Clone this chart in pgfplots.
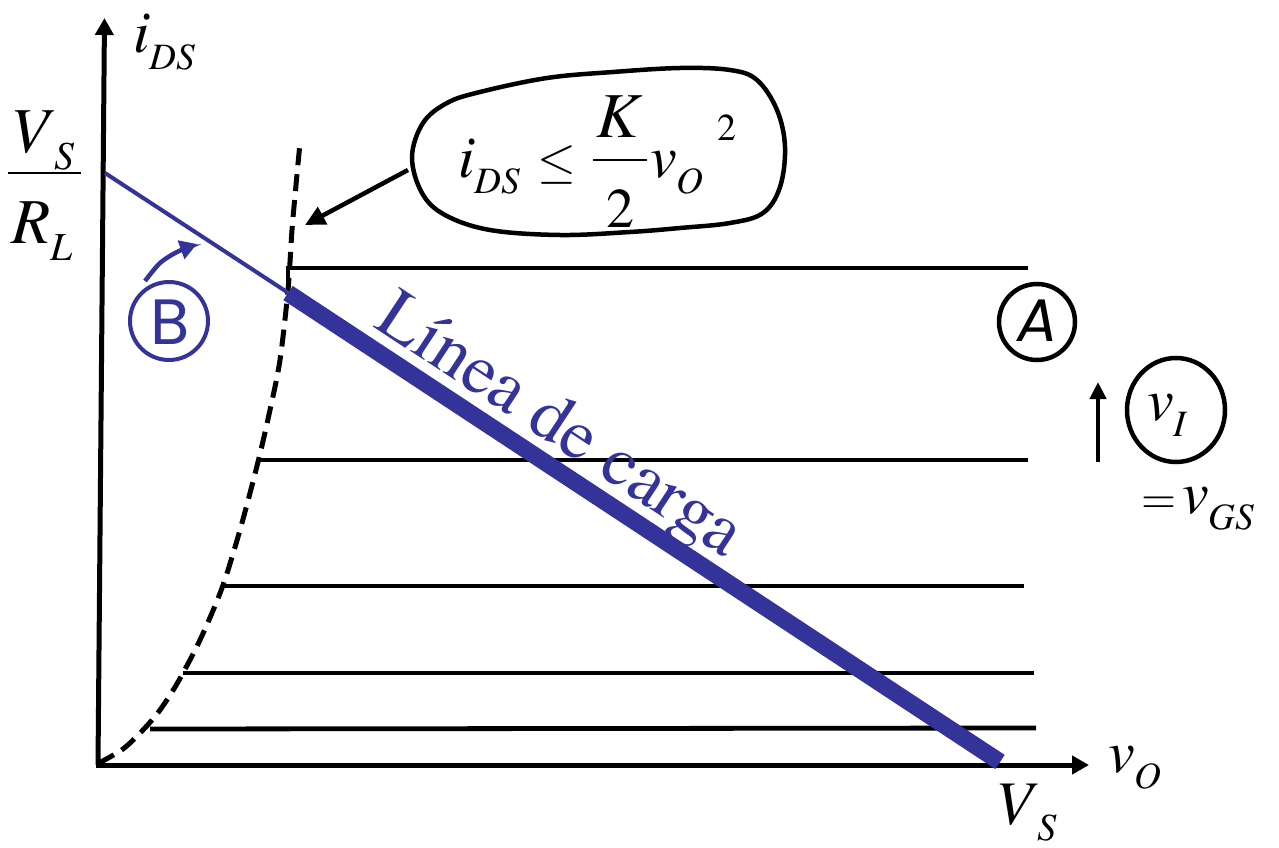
\documentclass[border=0pt]{standalone}
\usepackage{pgfplots}
\pgfplotsset{compat=1.18}
\usepackage{fontspec}
\usepackage{graphicx}
\usetikzlibrary{arrows.meta,shapes.geometric}
\setmainfont{texgyretermes}[Extension=.otf,UprightFont=*-regular,ItalicFont=*-italic,BoldFont=*-bold,BoldItalicFont=*-bolditalic]
\newfontfamily\comic{Poppins}
\definecolor{ldblue}{RGB}{51,51,153}
\newcommand\sub[1]{\raisebox{-0.27em}{\scalebox{0.62}{#1}}}
\newcommand\fsz[1]{\fontsize{#1}{#1}\selectfont}
\begin{document}
\begin{tikzpicture}
\begin{axis}[width=1279pt,height=848pt,scale only axis,
  xmin=0,xmax=1279,ymin=0,ymax=848,y dir=reverse,hide axis,clip=false]
\path (axis cs:0,0) (axis cs:1279,848);
% characteristic curves
\addplot[black,line width=4.8pt,mark=none] coordinates {(288,286)(288,268)(1028,268)};
\addplot[black,line width=4.8pt,mark=none] coordinates {(258,460)(1028,460)};
\addplot[black,line width=4.8pt,mark=none] coordinates {(222,586)(1024,586)};
\addplot[black,line width=4.8pt,mark=none] coordinates {(183,673)(1034,673)};
\addplot[black,line width=4.8pt,mark=none] coordinates {(150,729)(1036,728)};
% parabola boundary
\addplot[black,line width=5pt,mark=none,smooth,dash pattern=on 17pt off 9pt] coordinates {
(99,763)(123,749)(143,730)(160,710)(178,682)(200,640)(222,588)(240,530)(258,462)(270,410)(280,360)(288,290)(292,230)(296,185)(300,143)};
% axes
\addplot[black,line width=5pt,mark=none,-{Triangle[length=17pt,width=18pt]}] coordinates {(98,765)(104.5,18)};
\addplot[black,line width=5pt,mark=none,-{Triangle[length=17pt,width=18pt]}] coordinates {(96,765)(1089,765)};
% load line
\addplot[ldblue,line width=4pt,mark=none] coordinates {(105,173)(290,294)};
\addplot[ldblue,line width=17pt,mark=none] coordinates {(288,293)(1000,762)};
% arrow B
\addplot[ldblue,line width=4.5pt,mark=none,smooth,-{Triangle[length=17pt,width=19pt]}] coordinates {(145,281)(160,263)(177,252)(197,244)};
% callout arrow
\addplot[black,line width=4.5pt,mark=none,-{Triangle[length=20pt,width=19pt]}] coordinates {(408,170)(305,225)};
% vI arrow
\addplot[black,line width=4.5pt,mark=none,-{Triangle[length=17pt,width=16pt]}] coordinates {(1098,462)(1098,382)};
% blob
\draw[black,line width=4.5pt] plot[smooth cycle,tension=0.6] coordinates {
(axis cs:412,157)(axis cs:423,123)(axis cs:447,103)(axis cs:480,92)(axis cs:547,78)(axis cs:613,72)(axis cs:680,68)(axis cs:730,70)(axis cs:757,80)(axis cs:777,110)(axis cs:785,147)(axis cs:780,187)(axis cs:763,213)(axis cs:730,223)(axis cs:680,228)(axis cs:630,232)(axis cs:560,235)(axis cs:490,230)(axis cs:445,215)(axis cs:422,193)};
% circles
\node[circle,draw=ldblue,line width=4pt,minimum size=78pt,inner sep=0] at (axis cs:169,321) {};
\node[circle,draw=black,line width=4.5pt,minimum size=76pt,inner sep=0] at (axis cs:1037,322) {};
\node[ellipse,draw=black,line width=4.5pt,minimum width=98pt,minimum height=104pt,inner sep=0] at (axis cs:1176,410) {};
\node[ldblue,inner sep=0] at (axis cs:170,322) {\comic\fsz{64}B};
\node[black,inner sep=0] at (axis cs:1038,321) {\comic\itshape\fsz{60}A};
% labels
\node[anchor=base west,inner sep=0] at (axis cs:133,53) {\fsz{60}\textit{i}\sub{\textit{DS}}};
\node[anchor=base west,inner sep=0] at (axis cs:1108,772) {\fsz{60}\textit{v}\sub{\textit{O}}};
\node[anchor=base west,inner sep=0] at (axis cs:995,824) {\fsz{62}\textit{V}\sub{\textit{S}}};
\node[anchor=base west,inner sep=0] at (axis cs:10,152) {\fsz{64}\textit{V}\sub{\textit{S}}};
\addplot[black,line width=2.5pt,mark=none] coordinates {(8,173)(81,173)};
\node[anchor=base west,inner sep=0] at (axis cs:11,243) {\fsz{64}\textit{R}\sub{\textit{L}}};
\node[anchor=base west,inner sep=0] at (axis cs:1147,420) {\fsz{60}\textit{v}\sub{\textit{I}}};
\node[anchor=base west,inner sep=0] at (axis cs:1141,513) {\scalebox{4.5}{$=$}};
\node[anchor=base west,inner sep=0] at (axis cs:1182,513) {\fsz{60}\textit{v}\sub{\textit{GS}}};
% formula
\node[anchor=base west,inner sep=0] at (axis cs:458,177) {\fsz{60}\textit{i}\sub{\textit{DS}}};
\node[anchor=base,inner sep=0] at (axis cs:557,177) {\scalebox{5}{$\leq$}};
\node[anchor=base,inner sep=0] at (axis cs:620,138) {\fsz{64}\textit{K}};
\addplot[black,line width=2.5pt,mark=none] coordinates {(593,160)(647,160)};
\node[anchor=base,inner sep=0] at (axis cs:620,227) {\fsz{56}2};
\node[anchor=base west,inner sep=0] at (axis cs:650,177) {\fsz{60}\textit{v}\sub{\textit{O}}};
\node[anchor=base west,inner sep=0] at (axis cs:717,140) {\fsz{38}2};
% load line label
\node[ldblue,rotate=-33.4,inner sep=0] at (axis cs:558,428) {\fsz{72}Línea de carga};
\end{axis}
\end{tikzpicture}
\end{document}
